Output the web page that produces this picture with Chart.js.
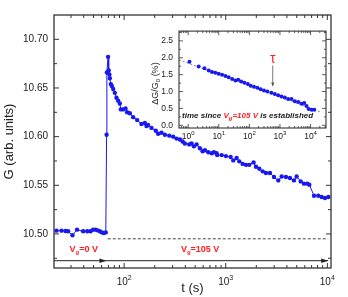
<!DOCTYPE html>
<html>
<head>
<meta charset="utf-8">
<script src="https://cdn.jsdelivr.net/npm/chart.js@4.4.1/dist/chart.umd.min.js"></script>
<style>
    html, body { margin: 0; padding: 0; background: #fff; }
    #wrap { position: relative; width: 348px; height: 297px; }
    #mainChart { position: absolute; left: 0; top: 0; }
    #insetChart { position: absolute; left: 147px; top: 20px; }
</style>
</head>
<body>
<div id="wrap">
    <canvas id="mainChart" width="348" height="297"></canvas>
    <canvas id="insetChart" width="183" height="125"></canvas>
</div>
<script>
// ===== Данные: основной график =====
const mainT = [
    21.6, 24.2, 26.5, 28.1, 31.0, 34.4, 39.5, 43.3, 46.7, 49.5,
    52.3, 54.7, 57.6, 60.3, 63.1, 66.0, 67.2, 67.6, 69.5, 70.5,
    71.5, 72.3, 74, 75.7, 78, 81, 84.1, 87.3, 90.7, 92.8,
    97.8, 103.2, 107, 113.8, 122.7, 134.4, 148, 160, 166, 172,
    186, 205, 216, 233, 252, 278, 304, 328, 354, 376,
    396, 437, 461, 486, 517, 557, 592, 624, 673, 727,
    765, 813, 824, 912, 1005, 1118, 1186, 1280, 1358, 1468,
    1583, 1706, 1880, 1984, 2140, 2311, 2490, 2726, 2987, 3292,
    3554, 3920, 4290, 4694, 4991, 5466, 5894, 6350, 6650, 7400,
    8150, 8800, 9490, 10240
];
const mainG = [
    10.5034, 10.5034, 10.503, 10.5027, 10.4986, 10.5044, 10.5027, 10.5027, 10.5027, 10.5044,
    10.5044, 10.5037, 10.5027, 10.5016, 10.501, 10.5016, 10.602, 10.666, 10.682, 10.668,
    10.664, 10.660, 10.654, 10.652, 10.649, 10.645, 10.640, 10.637, 10.634, 10.628,
    10.628, 10.629, 10.625, 10.624, 10.620, 10.617, 10.613, 10.614, 10.611, 10.612,
    10.609, 10.606, 10.603, 10.604, 10.602, 10.601, 10.600, 10.598, 10.597, 10.595,
    10.593, 10.592, 10.593, 10.590, 10.592, 10.588, 10.585, 10.586, 10.584, 10.583,
    10.584, 10.583, 10.581, 10.581, 10.580, 10.579, 10.5756, 10.578, 10.5746, 10.572,
    10.571, 10.571, 10.5735, 10.569, 10.567, 10.5643, 10.5627, 10.5627, 10.5585, 10.555,
    10.559, 10.5585, 10.5575, 10.555, 10.559, 10.554, 10.5517, 10.5517, 10.5506, 10.5393,
    10.5393, 10.538, 10.537, 10.538
];
const mainXTicks = [100, 1000, 10000];
const mainYTicks = [10.50, 10.55, 10.60, 10.65, 10.70];

// уровни пунктирной линии и стрелок
const dashLevel = 10.495;
const dashSpan = [69, 10200];
const arrowLevel = 10.4725;
const arrowTips = [67, 10200];

// ===== Данные: вставка =====
const insetT = [
    1.1, 2.2, 3.4, 4.7, 6.0, 7.7, 9.9, 12.8, 16.5, 21,
    27.3, 35, 43, 54, 69, 89, 110, 141, 182, 234,
    300, 388, 525, 677, 870, 1120, 1440, 1850, 2390, 3070,
    3960, 5100, 6200, 7400, 8650, 10900, 13300
];
const insetDG = [
    1.88, 1.74, 1.69, 1.62, 1.58, 1.56, 1.53, 1.50, 1.46, 1.42,
    1.37, 1.33, 1.35, 1.30, 1.26, 1.22, 1.17, 1.14, 1.11, 1.07,
    1.03, 1.00, 0.965, 0.93, 0.89, 0.85, 0.82, 0.78, 0.78, 0.71,
    0.69, 0.64, 0.66, 0.57, 0.48, 0.46, 0.46
];
const fitT = [0.5, 22000];
const fitDG = [1.94, 0.39];
const insetXTicks = [1, 10, 100, 1000, 10000];
const insetYTicks = [0, 0.5, 1.0, 1.5, 2.0, 2.5];
const tauT = 580;

const FONT = '"Liberation Sans", Arial, Helvetica, sans-serif';
const TEXT = '#222';
const FRAME = '#333';
const BLUE = '#1818f0';
const RED = '#ff2222';

// текст с индексами: [текст, цвет, сдвиг] сдвиг 1 = нижний, -1 = верхний
function drawRuns(ctx, runs, x, y, size, style, align) {
    const fontOf = r => style + ' ' + (r[2] ? Math.round(size * 0.7) : size) + 'px ' + FONT;
    let total = 0;
    runs.forEach(r => { ctx.font = fontOf(r); total += ctx.measureText(r[0]).width; });
    let cx = align === 'center' ? x - total / 2 : x;
    ctx.textAlign = 'left';
    ctx.textBaseline = 'middle';
    runs.forEach(r => {
        ctx.font = fontOf(r);
        ctx.fillStyle = r[1];
        const dy = r[2] === 1 ? size * 0.3 : (r[2] === -1 ? -size * 0.4 : 0);
        ctx.fillText(r[0], cx, y + dy);
        cx += ctx.measureText(r[0]).width;
    });
}

function logMinor(lo, hi) {
    const out = [];
    for (let d = 0.1; d <= 100000; d *= 10) {
        for (let k = 2; k <= 9; k++) {
            const v = k * d;
            if (v > lo && v < hi) out.push(v);
        }
    }
    return out;
}

function linMinor(lo, hi, step) {
    const out = [];
    for (let v = Math.ceil(lo / step) * step; v < hi; v += step) {
        if (v > lo) out.push(+v.toFixed(4));
    }
    return out;
}

function drawTicks(ctx, chart, xs, ys, xMinor, yMinor, major, minor) {
    const a = chart.chartArea;
    const sx = chart.scales.x, sy = chart.scales.y;
    ctx.beginPath();
    const vt = (v, len) => {
        const px = sx.getPixelForValue(v);
        ctx.moveTo(px, a.bottom); ctx.lineTo(px, a.bottom - len);
        ctx.moveTo(px, a.top); ctx.lineTo(px, a.top + len);
    };
    const ht = (v, len) => {
        const py = sy.getPixelForValue(v);
        ctx.moveTo(a.left, py); ctx.lineTo(a.left + len, py);
        ctx.moveTo(a.right, py); ctx.lineTo(a.right - len, py);
    };
    xs.forEach(v => vt(v, major));
    xMinor.forEach(v => vt(v, minor));
    ys.forEach(v => ht(v, major));
    yMinor.forEach(v => ht(v, minor));
    ctx.stroke();
}

function arrowHead(ctx, x, y, len, half) {
    ctx.beginPath();
    ctx.moveTo(x, y);
    ctx.lineTo(x - len, y - half);
    ctx.lineTo(x - len, y + half);
    ctx.closePath();
    ctx.fill();
}

document.addEventListener('DOMContentLoaded', function() {
    // ===== Основной график =====
    const mainDecor = {
        id: 'mainDecor',
        afterDraw(chart) {
            const { ctx, chartArea: a, scales: { x, y } } = chart;
            ctx.save();
            ctx.strokeStyle = FRAME;
            ctx.lineWidth = 1.3;
            ctx.strokeRect(a.left, a.top, a.right - a.left, a.bottom - a.top);
            ctx.lineWidth = 1;
            drawTicks(ctx, chart, mainXTicks, mainYTicks,
                logMinor(x.min, x.max), linMinor(y.min, y.max, 0.025).filter(v => !mainYTicks.some(m => Math.abs(m - v) < 1e-6)),
                5, 3);

            // подписи оси X
            mainXTicks.forEach(v => {
                drawRuns(ctx, [['10', TEXT, 0], [String(Math.round(Math.log10(v))), TEXT, -1]],
                    x.getPixelForValue(v), a.bottom + 14, 10, '', 'center');
            });

            // пунктир
            ctx.strokeStyle = '#444';
            ctx.setLineDash([3, 2]);
            ctx.beginPath();
            const dy = y.getPixelForValue(dashLevel);
            ctx.moveTo(x.getPixelForValue(dashSpan[0]), dy);
            ctx.lineTo(x.getPixelForValue(dashSpan[1]), dy);
            ctx.stroke();
            ctx.setLineDash([]);

            // стрелки
            const ay = y.getPixelForValue(arrowLevel);
            ctx.strokeStyle = '#222';
            ctx.fillStyle = '#222';
            ctx.beginPath();
            ctx.moveTo(a.left, ay);
            ctx.lineTo(x.getPixelForValue(arrowTips[1]), ay);
            ctx.stroke();
            arrowTips.forEach(t => arrowHead(ctx, x.getPixelForValue(t), ay, 7, 2.2));

            // подписи напряжений
            drawRuns(ctx, [['V', RED, 0], ['g', RED, 1], ['=0 V', RED, 0]],
                x.getPixelForValue(40), y.getPixelForValue(10.4835), 9, 'bold', 'center');
            drawRuns(ctx, [['V', RED, 0], ['g', RED, 1], ['=105 V', RED, 0]],
                x.getPixelForValue(560), y.getPixelForValue(10.4835), 9, 'bold', 'center');
            ctx.restore();
        }
    };

    new Chart(document.getElementById('mainChart'), {
        type: 'scatter',
        data: {
            datasets: [{
                data: mainT.map((t, i) => ({ x: t, y: mainG[i] })),
                showLine: true,
                borderColor: BLUE,
                backgroundColor: BLUE,
                borderWidth: 1,
                pointRadius: 2.2,
                pointBorderWidth: 0,
                pointHoverRadius: 2.2
            }]
        },
        options: {
            responsive: false,
            animation: false,
            devicePixelRatio: 1,
            layout: { padding: { top: 15, right: 17, left: 0, bottom: 0 } },
            plugins: { legend: { display: false }, tooltip: { enabled: false } },
            scales: {
                x: {
                    type: 'logarithmic',
                    min: 20.4,
                    max: 10870,
                    grid: { display: false, drawTicks: false },
                    border: { display: false },
                    afterBuildTicks: s => { s.ticks = mainXTicks.map(v => ({ value: v })); },
                    afterFit: s => { s.height = 29; },
                    ticks: { display: false },
                    title: { display: true, text: 't (s)', color: TEXT, font: { family: FONT, size: 13 }, padding: { top: 0, bottom: 1 } }
                },
                y: {
                    min: 10.465,
                    max: 10.725,
                    grid: { display: false, drawTicks: false },
                    border: { display: false },
                    afterBuildTicks: s => { s.ticks = mainYTicks.map(v => ({ value: v })); },
                    afterFit: s => { s.width = 54; },
                    ticks: { padding: 6, color: TEXT, font: { family: FONT, size: 10 }, callback: v => v.toFixed(2) },
                    title: { display: true, text: 'G (arb. units)', color: TEXT, font: { family: FONT, size: 13 }, padding: { top: 2, bottom: 0 } }
                }
            }
        },
        plugins: [mainDecor]
    });

    // ===== Вставка =====
    const insetDecor = {
        id: 'insetDecor',
        beforeDraw(chart) {
            const { ctx, chartArea: a } = chart;
            ctx.save();
            ctx.fillStyle = '#fff';
            ctx.fillRect(a.left, a.top, a.right - a.left, a.bottom - a.top);
            ctx.restore();
        },
        afterDraw(chart) {
            const { ctx, chartArea: a, scales: { x, y } } = chart;
            ctx.save();
            ctx.strokeStyle = FRAME;
            ctx.lineWidth = 1.1;
            ctx.strokeRect(a.left, a.top, a.right - a.left, a.bottom - a.top);
            ctx.lineWidth = 0.8;
            drawTicks(ctx, chart, insetXTicks, insetYTicks,
                logMinor(x.min, x.max), [0.25, 0.75, 1.25, 1.75, 2.25, 2.75].filter(v => v < y.max),
                4, 2);

            insetXTicks.forEach(v => {
                drawRuns(ctx, [['10', TEXT, 0], [String(Math.round(Math.log10(v))), TEXT, -1]],
                    x.getPixelForValue(v), a.bottom + 9, 8.5, '', 'center');
            });

            // подпись оси Y
            ctx.save();
            ctx.translate(9, (a.top + a.bottom) / 2 + 4);
            ctx.rotate(-Math.PI / 2);
            drawRuns(ctx, [['\u0394G/G', TEXT, 0], ['0', TEXT, 1], [' (%)', TEXT, 0]], 0, 0, 9, '', 'center');
            ctx.restore();

            // tau
            const tx = x.getPixelForValue(tauT);
            ctx.fillStyle = RED;
            ctx.font = '14px ' + FONT;
            ctx.textAlign = 'center';
            ctx.textBaseline = 'middle';
            ctx.fillText('\u03c4', tx, y.getPixelForValue(1.97));
            ctx.strokeStyle = '#555';
            ctx.fillStyle = '#555';
            ctx.lineWidth = 0.8;
            ctx.beginPath();
            ctx.moveTo(tx, y.getPixelForValue(1.77));
            ctx.lineTo(tx, y.getPixelForValue(1.17));
            ctx.stroke();
            ctx.beginPath();
            const ty = y.getPixelForValue(1.15);
            ctx.moveTo(tx, ty);
            ctx.lineTo(tx - 1.6, ty - 4);
            ctx.lineTo(tx + 1.6, ty - 4);
            ctx.closePath();
            ctx.fill();

            drawRuns(ctx, [['time since ', TEXT, 0], ['V', RED, 0], ['g', RED, 1], ['=105 V', RED, 0], [' is established', TEXT, 0]],
                x.getPixelForValue(0.63), y.getPixelForValue(0.27), 8, 'italic bold', 'left');
            ctx.restore();
        }
    };

    new Chart(document.getElementById('insetChart'), {
        type: 'scatter',
        data: {
            datasets: [{
                data: insetT.map((t, i) => ({ x: t, y: insetDG[i] })),
                borderColor: BLUE,
                backgroundColor: BLUE,
                pointRadius: 2,
                pointBorderWidth: 0,
                pointHoverRadius: 2
            }, {
                data: fitT.map((t, i) => ({ x: t, y: fitDG[i] })),
                showLine: true,
                borderColor: '#777',
                borderWidth: 0.9,
                borderDash: [2, 2],
                pointRadius: 0,
                pointHoverRadius: 0
            }]
        },
        options: {
            responsive: false,
            animation: false,
            devicePixelRatio: 1,
            layout: { padding: { top: 4, right: 4, left: 0, bottom: 0 } },
            plugins: { legend: { display: false }, tooltip: { enabled: false } },
            scales: {
                x: {
                    type: 'logarithmic',
                    min: 0.5,
                    max: 32000,
                    grid: { display: false, drawTicks: false },
                    border: { display: false },
                    afterBuildTicks: s => { s.ticks = insetXTicks.map(v => ({ value: v })); },
                    afterFit: s => { s.height = 17; },
                    ticks: { display: false }
                },
                y: {
                    min: -0.08,
                    max: 2.79,
                    grid: { display: false, drawTicks: false },
                    border: { display: false },
                    afterBuildTicks: s => { s.ticks = insetYTicks.map(v => ({ value: v })); },
                    afterFit: s => { s.width = 32; },
                    ticks: { padding: 6, color: TEXT, font: { family: FONT, size: 8.5 }, callback: v => v.toFixed(1) }
                }
            }
        },
        plugins: [insetDecor]
    });
});
</script>
</body>
</html>
